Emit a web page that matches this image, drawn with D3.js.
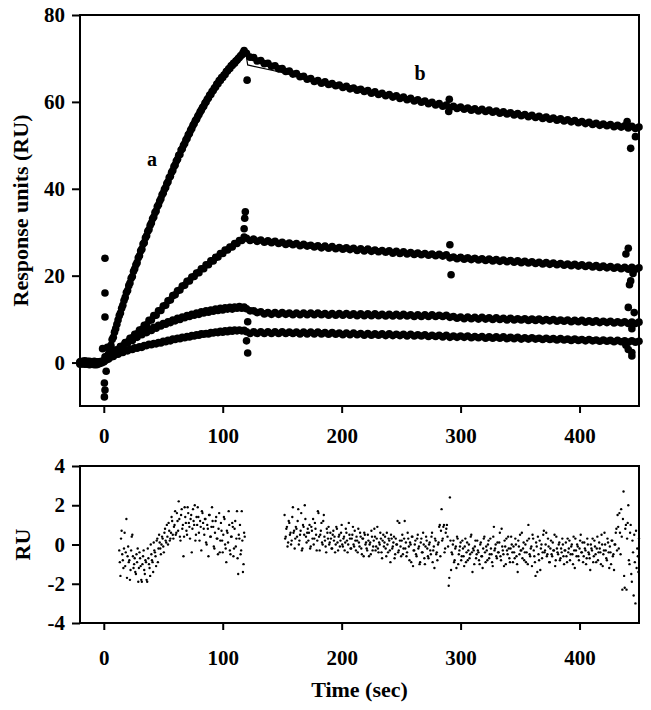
<!DOCTYPE html>
<html><head><meta charset="utf-8">
<script src="https://cdn.jsdelivr.net/npm/d3@7"></script>
<style>
body{margin:0;background:#fff}
svg text{font-family:"Liberation Serif","Times New Roman",serif;font-weight:bold;fill:#000}
</style>
</head><body>
<svg id="c" width="651" height="710"></svg>
<script>
// ---------- data ----------
const xTicks=[0,100,200,300,400];
const yTicksTop=[0,20,40,60,80];
const yTicksBot=[-4,-2,0,2,4];
const curveLabels=["a","b"];

// sampling grids: baseline t=-20..-2 (2 s), association t=0..118, dissociation t=120..450 (3 s)
const baseStart=-20, baseStep=2, assocStepA=1, assocStep=2, dissStart=120, dissStep=3;

const baseA=[0.2,-0.3,0.1,-0.4,0.3,-0.2,0.0,-0.5,0.2,-0.1];
const base2=[-0.2,0.3,-0.4,0.1,-0.3,0.2,-0.5,0.0,-0.2,0.3];
const base3=[0.1,-0.2,0.4,-0.1,0.2,-0.4,0.3,-0.3,0.1,0.0];
const base4=[-0.4,0.0,-0.2,0.3,-0.5,0.1,-0.1,0.2,-0.3,0.1];

const assocA=[0.4,1.3,0.8,1.5,2.0,3.3,4.0,5.3,5.8,7.0,
7.8,8.8,9.8,10.8,11.4,12.5,13.2,14.3,15.0,16.1,
16.6,17.7,18.3,19.4,19.8,21.0,21.6,22.5,23.0,24.1,
24.6,25.7,26.1,27.3,27.6,28.7,29.2,30.2,30.6,31.6,
32.1,33.1,33.5,34.5,34.9,35.9,36.3,37.2,37.7,38.6,
39.0,39.9,40.3,41.2,41.6,42.6,42.9,43.8,44.2,45.1,
45.5,46.4,46.8,47.7,47.9,48.9,49.2,50.0,50.4,51.2,
51.6,52.4,52.7,53.5,53.9,54.6,55.0,55.7,56.0,56.7,
57.1,57.7,58.1,58.7,59.0,59.7,60.0,60.6,60.9,61.6,
61.7,62.4,62.6,63.2,63.4,64.1,64.2,64.9,64.9,65.6,
65.6,66.2,66.3,67.0,67.1,67.6,67.7,68.3,68.4,68.9,
68.9,69.4,69.6,70.0,70.2,70.6,70.8,71.3,71.8];
const assoc2=[0.2,0.8,1.0,1.8,1.9,2.8,2.9,3.7,3.8,4.6,4.7,5.6,5.7,6.5,6.6,7.5,7.6,8.6,8.7,9.7,
9.8,10.8,10.9,11.9,12.0,13.0,13.2,14.2,14.4,15.4,15.6,16.5,16.7,17.6,17.8,18.7,18.8,19.7,19.8,20.6,
20.7,21.6,21.6,22.5,22.5,23.4,23.4,24.2,24.3,25.1,25.1,25.9,25.9,26.6,26.6,27.4,27.4,28.1,28.1,28.9];
const assoc3=[0.3,0.8,1.0,1.9,2.0,2.9,2.9,3.7,3.7,4.5,4.5,5.2,5.1,5.9,5.8,6.5,6.4,7.1,6.9,7.6,
7.4,8.1,7.9,8.6,8.4,9.0,8.8,9.4,9.2,9.8,9.6,10.2,9.9,10.5,10.3,10.8,10.6,11.1,10.9,11.4,
11.1,11.7,11.4,11.9,11.6,12.1,11.8,12.3,12.0,12.5,12.1,12.6,12.3,12.7,12.3,12.8,12.5,12.9,12.5,12.8];
const assoc4=[0.2,0.6,0.8,1.3,1.4,1.9,1.9,2.3,2.3,2.8,2.7,3.1,3.0,3.4,3.3,3.6,3.5,3.9,3.9,4.2,
4.1,4.4,4.3,4.6,4.5,4.9,4.8,5.1,5.0,5.4,5.3,5.6,5.5,5.8,5.7,6.0,5.9,6.2,6.1,6.4,
6.3,6.6,6.5,6.7,6.6,6.9,6.8,7.0,6.9,7.2,7.0,7.3,7.1,7.4,7.2,7.5,7.3,7.5,7.3,7.4];

const dissA=[71.2,70.3,70.2,69.4,69.5,68.8,68.9,68.2,68.3,67.6,
67.7,67.0,67.1,66.4,66.5,65.8,65.9,65.2,65.4,64.7,
64.9,64.3,64.6,64.0,64.2,63.7,63.9,63.3,63.6,63.0,
63.2,62.7,62.9,62.4,62.6,62.0,62.3,61.7,62.0,61.4,
61.7,61.1,61.4,60.8,61.1,60.5,60.8,60.2,60.5,59.9,
60.2,59.6,59.9,59.3,59.6,59.0,59.3,58.7,59.0,58.5,
58.8,58.3,58.6,58.1,58.4,57.9,58.3,57.8,58.1,57.6,
57.9,57.4,57.7,57.2,57.5,57.0,57.3,56.8,57.1,56.6,
56.9,56.4,56.7,56.2,56.5,56.0,56.3,55.8,56.1,55.6,
55.9,55.4,55.7,55.2,55.5,55.0,55.3,54.8,55.1,54.6,
54.9,54.5,54.8,54.3,54.6,54.2,54.5,54.0,54.4,53.9,54.2];
const diss2=[28.6,28.1,28.4,27.9,28.2,27.7,28.0,27.6,27.9,27.4,
27.7,27.2,27.5,27.1,27.4,26.9,27.2,26.8,27.0,26.6,
26.9,26.4,26.8,26.3,26.7,26.2,26.5,26.1,26.4,26.0,
26.3,25.8,26.2,25.7,26.1,25.6,25.9,25.5,25.8,25.4,
25.7,25.2,25.6,25.1,25.5,25.0,25.3,24.9,25.2,24.8,
25.1,24.7,25.0,24.6,24.9,24.5,24.8,24.1,24.3,23.9,
24.2,23.8,24.1,23.7,24.0,23.6,23.9,23.5,23.8,23.4,
23.7,23.3,23.6,23.2,23.5,23.1,23.4,23.0,23.3,22.9,
23.2,22.8,23.1,22.7,23.0,22.6,22.9,22.5,22.8,22.4,
22.7,22.3,22.6,22.2,22.5,22.1,22.4,22.0,22.3,21.9,
22.2,21.8,22.1,21.7,22.0,21.6,21.9,21.5,21.9,21.5,21.8];
const diss3=[12.4,11.9,11.9,11.5,11.7,11.2,11.5,11.1,11.5,11.1,
11.5,11.1,11.4,11.0,11.4,11.0,11.4,11.0,11.4,11.0,
11.4,11.0,11.3,10.9,11.3,10.9,11.3,10.9,11.3,10.9,
11.2,10.8,11.2,10.8,11.2,10.8,11.2,10.8,11.1,10.7,
11.1,10.7,11.1,10.7,11.1,10.7,11.0,10.6,11.0,10.6,
11.0,10.6,11.0,10.6,10.9,10.6,10.9,10.4,10.6,10.2,
10.5,10.1,10.5,10.1,10.4,10.0,10.4,10.0,10.3,9.9,
10.3,9.9,10.2,9.8,10.2,9.8,10.1,9.8,10.1,9.7,
10.0,9.7,10.0,9.6,9.9,9.6,9.9,9.5,9.8,9.5,
9.8,9.4,9.7,9.4,9.7,9.3,9.6,9.3,9.6,9.2,
9.5,9.2,9.5,9.1,9.4,9.1,9.4,9.0,9.3,9.0,9.3];
const diss4=[7.1,6.7,7.1,6.7,7.1,6.7,7.1,6.7,7.1,6.7,
7.1,6.7,7.0,6.7,7.0,6.6,7.0,6.6,7.0,6.6,
7.0,6.6,6.9,6.5,6.9,6.5,6.8,6.4,6.8,6.4,
6.8,6.4,6.7,6.3,6.7,6.3,6.6,6.3,6.6,6.2,
6.6,6.2,6.5,6.2,6.5,6.1,6.5,6.1,6.4,6.1,
6.4,6.0,6.3,6.0,6.3,5.9,6.3,5.8,6.1,5.8,
6.1,5.8,6.1,5.7,6.0,5.7,6.0,5.6,5.9,5.6,
5.9,5.6,5.9,5.5,5.8,5.5,5.8,5.4,5.7,5.4,
5.7,5.4,5.6,5.3,5.6,5.3,5.5,5.2,5.5,5.2,
5.4,5.1,5.4,5.1,5.3,5.0,5.3,5.0,5.2,4.9,
5.2,4.9,5.1,4.8,5.1,4.8,5.0,4.7,5.0,4.7,4.9];

// injection / switching artefacts (t, RU)
const spikeT=[1,1,1,2,0.5,1,0.5,-1,3, 120.5,119,118.5,118,121,120,121, 290,290.5,291,292, 443,447,440,441,439,442,443,445,441,446,444,441,444,444,439];
const spikeV=[24,16,10.5,-2,-4.7,-6.3,-7.9,3.2,3.5, 65,34.7,33.2,30.8,9.4,5.0,2.2, 57.8,60.6,27.1,20.2, 49.3,52,55.5,26.3,25,17.9,18.8,20.5,12.7,11.5,7.8,3,2.3,1.5,4];

// fitted curves (t, RU)
const fitAT=[2,10,20,30,40,50,60,70,80,90,100,110,119,121,146,180,250,290,350,450];
const fitAV=[0.8,7.8,16.6,24.6,32.1,39.0,45.5,51.6,57.1,61.7,65.6,68.9,71.9,68.5,67.0,64.7,60.6,58.9,56.9,54.1];
const fit2T=[2,10,20,30,40,60,80,100,119,120,200,300,450];
const fit2V=[0.3,2.8,5.3,7.6,10.1,15.7,20.8,25.2,28.7,28.5,26.3,24.1,21.7];
const fit3T=[2,10,20,40,60,80,100,119,120,140,200,300,450];
const fit3V=[0.3,2.8,4.9,7.7,9.8,11.3,12.3,12.7,12.2,11.4,11.1,10.4,9.2];
const fit4T=[2,10,20,40,60,80,100,119,120,200,300,450];
const fit4V=[0.3,1.9,2.9,4.2,5.4,6.4,7.1,7.4,7.0,6.6,5.9,4.8];

// residuals: segment 1 from t=13 s, segment 2 from t=152 s, 1 s apart (two interleaved sets)
const res1Start=13, res2Start=152;
const res1a=[-0.3,-1.6,0.7,-0.8,-0.2,-1.1,1.3,-0.6,-0.9,-1.8,-0.3,0.5,-1.2,-0.7,-1.5,-0.9,-1.9,-0.4,-1.1,-1.9,
-0.6,-1.3,-0.8,-1.8,-0.2,-1.0,-1.6,-0.5,-0.9,0.1,-0.4,-1.1,0.3,-0.2,0.1,-0.5,0.4,-0.1,0.6,0.2,
1.0,0.0,0.7,0.3,1.4,0.5,0.9,1.7,0.6,1.2,2.2,0.4,1.5,0.8,-0.6,1.9,1.1,0.5,1.6,0.9,
1.3,-0.4,1.8,1.0,0.2,1.4,1.9,0.6,1.2,-0.3,1.6,0.8,1.3,0.1,1.0,-0.6,1.5,0.4,1.9,0.9,
-0.2,1.2,0.3,-0.5,1.6,0.2,0.7,-0.4,1.4,0.0,-0.9,0.6,1.7,-0.3,0.4,1.1,-0.6,0.8,-0.1,1.7,
-1.5,0.3,-0.5,1.7,-1.4,0.6];
const res1b=[-0.9,0.3,-0.5,-1.2,0.6,-0.4,-1.7,-0.1,-0.8,-1.3,0.4,-0.6,-1.0,-1.4,-0.5,-0.2,-1.2,-0.7,-1.8,-1.0,
-0.3,-1.5,-0.9,-1.9,-0.7,-1.2,0.0,-0.8,-1.4,-0.3,-0.6,0.2,-0.9,0.5,-0.2,0.0,0.3,-0.4,0.8,0.1,
0.4,1.1,0.2,0.6,1.2,0.3,1.0,0.5,1.6,0.7,1.3,0.2,1.8,1.0,0.4,1.4,0.7,1.9,1.1,0.3,
1.5,0.8,1.2,2.0,0.5,1.0,1.4,0.2,0.9,1.7,1.1,0.5,1.3,0.0,0.8,1.5,0.4,0.9,1.2,-0.1,
0.6,1.4,0.3,0.8,-0.4,1.1,0.2,0.5,1.3,-0.2,0.7,0.1,1.0,-0.5,0.4,0.9,-0.2,1.2,0.3,-0.7,
0.5,1.0,-0.3,0.2,-1.0,0.4];
const res2a=[1.5,0.4,0.9,0.1,1.1,0.6,0.2,1.9,0.7,0.3,0.8,1.2,0.0,0.5,1.6,-0.2,0.9,2.0,0.4,0.6,
0.2,1.0,-0.1,0.7,1.3,0.3,0.8,-0.3,1.7,0.4,0.5,1.1,0.0,1.5,0.2,-0.4,0.6,0.9,0.1,0.3,
-0.2,0.7,0.4,0.0,0.8,-0.3,0.5,0.2,1.0,-0.1,0.4,0.1,0.6,-0.4,1.1,0.3,-0.2,0.5,0.0,0.7,
-0.3,0.2,0.8,-0.1,0.4,-0.5,0.3,0.6,0.0,-0.2,0.5,-0.6,0.1,0.7,-0.3,0.2,0.4,-0.1,0.9,-0.4,
0.0,0.3,-0.7,0.5,0.1,-0.2,0.6,-0.4,0.2,-0.9,0.3,-0.1,0.4,-0.5,0.0,1.2,-0.3,0.2,-0.6,0.5,
-0.2,1.2,0.1,-0.4,0.3,-0.8,0.0,0.4,-1.1,-0.3,0.2,-0.6,0.5,-0.1,-0.9,0.3,-0.4,0.0,-1.0,0.4,
-0.2,-0.7,0.1,-0.5,0.6,-0.3,-1.2,0.2,-0.4,0.0,0.9,-0.6,1.8,0.3,1.0,-0.2,0.8,0.4,-2.1,2.4,
-1.3,-0.5,0.2,-0.8,-0.1,0.4,-1.0,-0.3,0.1,-0.6,-0.2,-1.1,0.3,-0.4,-0.8,0.0,-0.5,0.5,-1.4,-0.3,
-0.1,-0.7,0.2,-0.4,-1.0,0.1,-0.6,-0.2,0.4,-0.9,-0.3,0.0,-0.7,0.3,-0.5,-1.1,0.9,-0.2,-0.6,0.1,
-0.4,0.6,-0.8,-0.1,-0.5,0.2,-1.0,-0.3,0.4,-0.7,-0.2,0.0,-0.9,-0.4,0.3,-0.6,-1.4,-0.1,0.5,-0.3,
-0.7,0.1,-0.4,-0.9,0.2,1.0,-0.5,-0.2,-1.1,0.3,-0.6,-1.6,-0.1,0.4,-0.8,-1.3,0.0,-0.4,0.7,-0.3,
0.6,-0.5,-0.1,-0.9,0.2,-0.6,-0.3,0.5,-0.8,-0.2,-0.5,0.1,-0.7,-0.4,0.0,-1.0,-0.3,-0.6,0.3,-0.2,
-0.8,-0.1,-0.5,0.4,-1.2,-0.3,0.0,-0.6,-0.2,0.5,-0.4,-0.9,0.1,-0.3,-0.7,0.0,-0.5,-1.3,-0.2,0.3,
-0.6,-0.1,-0.9,0.4,-0.4,-0.2,-1.0,0.0,-0.5,0.6,-0.3,-0.8,0.1,-1.2,-0.4,0.2,-0.6,-1.3,0.0,0.8,
1.5,-0.2,0.6,1.8,-2.3,2.7,-2.2,1.0,0.3,2.0,-1.0,1.0,-1.9,-0.4,0.5,-3.0,-1.2,-0.6,0.3];
const res2b=[0.3,0.8,-0.1,1.2,0.5,0.0,1.4,0.6,-0.2,0.9,0.4,1.8,0.2,0.7,-0.3,1.0,0.5,1.3,0.1,0.8,
0.6,-0.2,0.9,0.3,0.0,1.1,0.5,0.2,1.6,-0.3,0.7,0.1,1.2,0.4,-0.1,0.8,0.3,0.0,0.6,-0.2,
0.5,0.2,-0.4,0.9,0.1,0.4,-0.1,0.6,0.0,0.3,-0.3,0.8,0.2,0.0,0.5,-0.2,0.3,0.9,-0.1,0.2,
0.4,-0.4,0.1,0.6,-0.2,0.3,-0.6,0.5,0.1,-0.3,0.2,0.0,-0.5,0.4,-0.1,0.8,-0.3,0.3,-0.2,0.1,
0.6,-0.4,0.2,-0.1,0.4,-0.6,0.0,0.3,-0.3,0.5,-0.2,0.1,-0.7,0.3,0.0,-0.4,1.1,-0.1,0.2,-0.5,
0.3,-0.2,-0.6,0.6,-0.1,0.1,-0.9,0.4,-0.3,0.0,-0.5,0.3,-0.2,-1.0,0.1,-0.4,0.6,-0.7,-0.1,0.2,
-0.6,0.0,-0.3,0.4,-0.9,-0.1,0.3,-0.5,-0.8,0.1,1.0,0.7,0.2,0.9,-0.4,0.6,1.0,-0.1,-1.7,0.2,
-0.4,0.0,-0.9,-0.2,-1.2,0.3,-0.5,-0.1,-0.8,0.2,-0.6,-0.1,-0.9,0.1,-0.3,-0.7,0.4,-0.4,-0.2,-1.0,
0.2,-0.5,-0.3,-0.8,0.0,-0.6,-1.2,0.3,-0.4,-0.1,-0.8,0.2,-0.5,-0.2,-0.9,0.4,-0.3,0.0,-0.7,-0.4,
0.1,-0.6,0.8,-0.3,-1.1,-0.1,0.3,-0.5,-0.2,-0.9,0.4,-0.4,-0.1,-0.7,0.0,-1.0,0.2,-0.5,-0.3,0.6,
-0.2,-0.8,0.0,-0.4,-1.0,0.3,-0.6,-0.1,0.5,-0.3,-0.9,0.1,-1.4,-0.5,0.2,-0.2,-0.7,0.5,-0.4,0.0,
-0.6,0.3,-0.9,-0.2,-0.5,0.1,-0.3,-1.1,0.4,-0.4,0.0,-0.8,-0.2,0.3,-0.6,-0.3,0.1,-0.9,-0.4,0.2,
-0.5,0.0,-1.0,-0.3,0.3,-0.6,-0.1,-0.8,0.2,-0.4,0.1,-0.6,-0.2,-1.0,0.3,-0.4,-0.7,0.0,-0.3,-0.9,
0.2,-0.5,-0.2,-0.8,0.1,-0.4,0.5,-1.1,-0.3,0.0,-0.7,0.3,-0.4,-0.1,-1.0,0.2,-0.5,0.0,0.6,-0.3,
0.9,1.6,-0.5,0.4,1.3,-1.6,0.8,-2.3,1.1,-0.8,0.6,-1.5,0.2,-2.6,-0.9,0.7,-0.2,-1.4,0.2];

// ---------- build point tables ----------
const series=[
  {base:baseA,assoc:assocA,step:assocStepA,diss:dissA},
  {base:base2,assoc:assoc2,step:assocStep,diss:diss2},
  {base:base3,assoc:assoc3,step:assocStep,diss:diss3},
  {base:base4,assoc:assoc4,step:assocStep,diss:diss4}
];
const topPts=[];
series.forEach(s=>{
  s.base.forEach((v,i)=>topPts.push([baseStart+i*baseStep,v]));
  s.assoc.forEach((v,i)=>topPts.push([i*s.step,v]));
  s.diss.forEach((v,i)=>topPts.push([dissStart+i*dissStep,v]));
});
spikeT.forEach((t,i)=>topPts.push([t,spikeV[i]]));
const fits=[[fitAT,fitAV],[fit2T,fit2V],[fit3T,fit3V],[fit4T,fit4V]].map(([T,V])=>T.map((t,i)=>[t,V[i]]));

const resPts=[];
res1a.forEach((v,i)=>resPts.push([res1Start+i,v]));
res1b.forEach((v,i)=>resPts.push([res1Start+0.5+i,v]));
res2a.forEach((v,i)=>resPts.push([res2Start+i,v]));
res2b.forEach((v,i)=>resPts.push([res2Start+0.5+i,v]));

// ---------- drawing ----------
const svg=d3.select("#c");
const L=80,R=639;
const topY=[15,406], botY=[466,623];
const x=d3.scaleLinear([-20,450],[L,R]);
const yT=d3.scaleLinear([-10,80],[topY[1],topY[0]]);
const yB=d3.scaleLinear([-4,4],[botY[1],botY[0]]);
const fmt=d=>String(d);

function axes(y,yt,yb,ticksY,xPad){
  const gy=svg.append("g").attr("transform",`translate(${L},0)`)
    .call(d3.axisLeft(y).tickValues(ticksY).tickFormat(fmt).tickSize(8).tickPadding(7));
  const gx=svg.append("g").attr("transform",`translate(0,${yb})`)
    .call(d3.axisBottom(x).tickValues(xTicks).tickFormat(fmt).tickSize(7).tickPadding(xPad));
  [gy,gx].forEach(g=>{
    g.select(".domain").remove();
    g.selectAll(".tick line").attr("stroke","#000").attr("stroke-width",2);
    g.selectAll(".tick text").style("font-size","21px");
  });
  svg.append("rect").attr("x",L).attr("y",yt).attr("width",R-L).attr("height",yb-yt)
    .attr("fill","none").attr("stroke","#000").attr("stroke-width",2);
}

// top panel
svg.append("g").selectAll("circle").data(topPts).join("circle")
  .attr("cx",d=>x(d[0])).attr("cy",d=>yT(d[1])).attr("r",3.8).attr("fill","#000");
const line=d3.line().x(d=>x(d[0])).y(d=>yT(d[1]));
svg.append("g").selectAll("path").data(fits).join("path")
  .attr("d",line).attr("fill","none").attr("stroke","#000").attr("stroke-width",1.2);
axes(yT,topY[0],topY[1],yTicksTop,15);

// bottom panel
svg.append("g").selectAll("circle").data(resPts.filter(d=>d[0]<=450)).join("circle")
  .attr("cx",d=>x(d[0])).attr("cy",d=>yB(d[1])).attr("r",1.2).attr("fill","#000");
axes(yB,botY[0],botY[1],yTicksBot,20);

// labels
svg.append("text").attr("x",152).attr("y",166).attr("text-anchor","middle").style("font-size","20px").text(curveLabels[0]);
svg.append("text").attr("x",420).attr("y",80).attr("text-anchor","middle").style("font-size","20px").text(curveLabels[1]);
svg.append("text").attr("transform",`translate(28,${(topY[0]+topY[1])/2}) rotate(-90)`)
  .attr("text-anchor","middle").style("font-size","22px").text("Response units (RU)");
svg.append("text").attr("transform",`translate(30,${(botY[0]+botY[1])/2}) rotate(-90)`)
  .attr("text-anchor","middle").style("font-size","22px").text("RU");
svg.append("text").attr("x",(L+R)/2).attr("y",697).attr("text-anchor","middle").style("font-size","22px").text("Time (sec)");
</script>
</body></html>
